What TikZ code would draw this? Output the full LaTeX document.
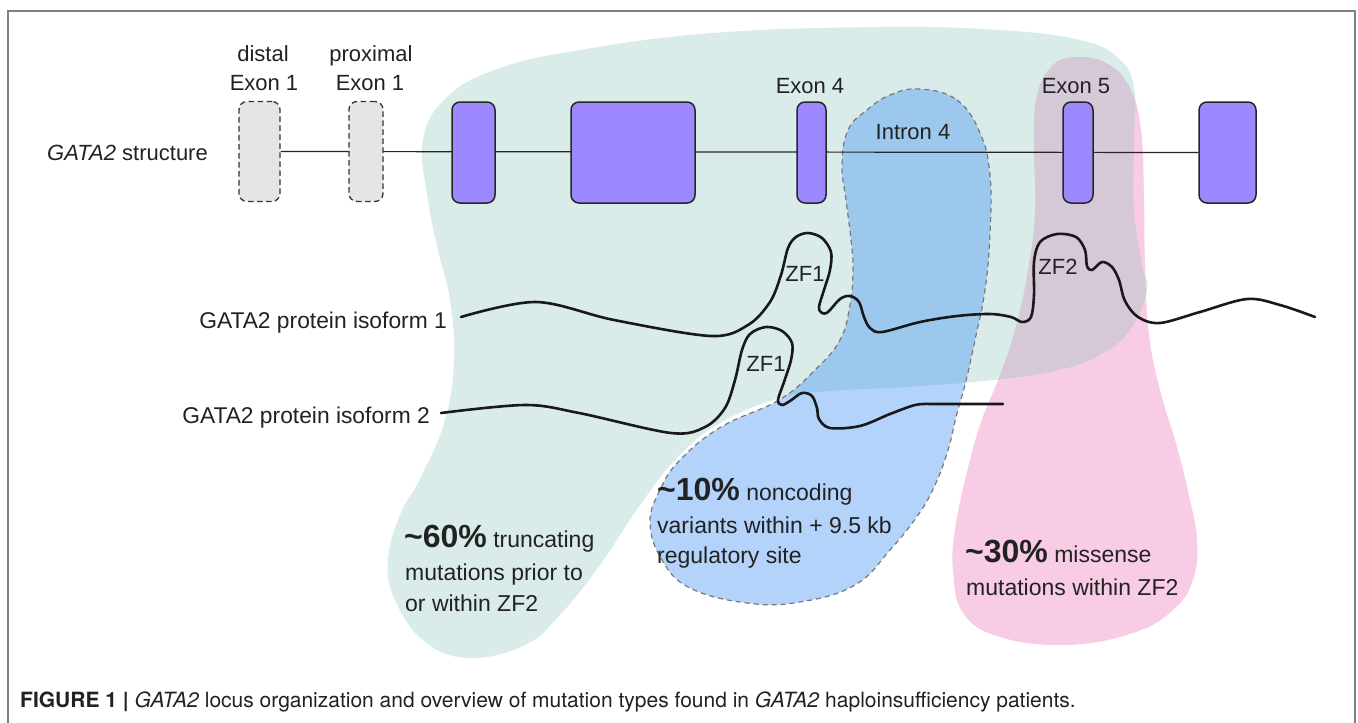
\documentclass[tikz,border=0pt]{standalone}
\usepackage{fontspec}
\setmainfont{Liberation Sans}
\newfontfamily\capfont{TeX Gyre Heros}
\usetikzlibrary{backgrounds}
\definecolor{txt}{RGB}{34,34,34}
\definecolor{exonfill}{RGB}{157,137,255}
\definecolor{greenb}{RGB}{135,195,188}
\definecolor{blueb}{RGB}{74,152,245}
\definecolor{pinkb}{RGB}{248,204,228}
\definecolor{framec}{RGB}{128,128,128}
\definecolor{dashc}{RGB}{120,120,120}
\begin{document}
\begin{tikzpicture}[x=1pt,y=-1pt,
  lbl/.style={font=\fontsize{22}{26}\selectfont, text=txt, inner sep=0pt},
  isolbl/.style={font=\fontsize{22.8}{26}\selectfont, text=txt, inner sep=0pt, anchor=base east},
  mut/.style={font=\fontsize{23}{27}\selectfont, text=txt, inner sep=0pt, anchor=base west},
  exonbox/.style={draw=black!85, fill=exonfill, rounded corners=8pt, line width=1.5pt, minimum height=101pt, inner sep=0pt},
  dexon/.style={draw=black!80, fill=black!10, dash pattern=on 5.5pt off 3.5pt, rounded corners=8pt, line width=1.3pt, minimum height=100pt, inner sep=0pt},
  prot/.style={line width=2.6pt, line cap=round, line join=round, black!90}
]
\useasboundingbox (0,0) rectangle (1358,723);

% exons
\node[dexon, minimum width=41pt] (e1d) at (259.5,151.5) {};
\node[dexon, minimum width=34pt] (e1p) at (366,151.5) {};
\node[exonbox, minimum width=43pt] (e2) at (473.5,152.5) {};
\node[exonbox, minimum width=124pt] (e3) at (633,152.5) {};
\node[exonbox, minimum width=29pt] (e4) at (811.5,152.5) {};
\node[exonbox, minimum width=30pt] (e5) at (1078,152.5) {};
\node[exonbox, minimum width=57pt] (e6) at (1227.5,152.5) {};

\begin{pgfonlayer}{background}
  \fill[white] (0,0) rectangle (1358,723);
  % pink blob
  \fill[pinkb] plot[smooth cycle, tension=0.7] coordinates {
    (1075,57) (1108,64) (1130,88) (1141,130) (1144,200) (1145,265) (1149,335)
    (1160,390) (1177,447) (1190,500) (1197,540) (1193,580) (1173,610) (1133,633)
    (1067,645) (1000,637) (963,613) (953,570) (955,530) (965,480) (980,425)
    (998,380) (1015,330) (1028,270) (1035,210) (1034,150) (1036,100) (1050,68)};
  % green blob
  \fill[greenb, fill opacity=0.3] plot[smooth cycle, tension=0.7] coordinates {
    (423,140) (447,97) (500,68) (580,50) (713,33) (880,27) (1000,30) (1080,40)
    (1118,58) (1134,87) (1134,140) (1134,210) (1142,265) (1147,290) (1130,330)
    (1100,355) (1059,370) (994,380) (906,387) (830,391) (780,398) (720,423)
    (677,458) (640,505) (600,565) (560,615) (525,645) (470,658) (425,642)
    (395,600) (388,560) (400,515) (421,477) (445,420) (454,360) (450,300)
    (438,250) (428,200)};
  % white rim
  \draw[white, line width=4pt] plot[smooth, tension=0.7] coordinates {
    (652,520) (660,490) (680,460) (721,427) (779,400)};
  % blue blob
  \path[fill=blueb, fill opacity=0.42, draw=dashc, line width=1.2pt, dash pattern=on 5pt off 4pt]
    plot[smooth cycle, tension=0.7] coordinates {
    (920,89) (957,100) (980,133) (990,175) (990,233) (985,290) (975,340)
    (965,385) (957,413) (948,450) (935,485) (918,515) (890,550) (855,585)
    (800,602) (747,603) (690,588) (662,560) (650,523) (660,490) (680,460)
    (721,427) (779,400) (815,370) (840,340) (850,305) (853,270) (851,240)
    (846,200) (842,165) (848,130) (867,110) (890,95)};
  % gene line
  \draw[black!85, line width=1.2pt] (e1d.east) -- (e6.west);
\end{pgfonlayer}

% frame
\draw[framec, line width=1.5pt] (8,730) -- (8,11) -- (1355,11) -- (1355,730);

% labels
\node[lbl, anchor=base east] (gs) at (208,160) {\textit{GATA2} structure};
\node[lbl, anchor=base] (d1) at (263,61) {distal};
\node[lbl, anchor=base] (d2) at (264,90) {Exon 1};
\node[lbl, anchor=base] (p1) at (371,61) {proximal};
\node[lbl, anchor=base] (p2) at (370,90) {Exon 1};
\node[lbl, anchor=base] (x4) at (810,93) {Exon 4};
\node[lbl, anchor=base] (x5) at (1076,93) {Exon 5};
\node[lbl, anchor=base] (i4) at (913,139) {Intron 4};
\node[isolbl] (iso1) at (447,328) {GATA2 protein isoform 1};
\node[isolbl] (iso2) at (430,423) {GATA2 protein isoform 2};
\node[lbl, anchor=base] (zfa) at (805,281) {ZF1};
\node[lbl, anchor=base] (zfb) at (766,371) {ZF1};
\node[lbl, anchor=base] (zfc) at (1058,274) {ZF2};

% protein isoform 1
\draw[prot] plot[smooth, tension=0.55] coordinates {
  (461,317) (536,302) (614,320) (711,336) (748,325) (770,302) (781,275) (788,248)
  (796,237) (808,233) (822,238) (831,252) (830,270) (824,290) (819,307) (822,313)
  (828,312) (840,299) (850,296) (859,302) (864,317) (870,328) (882,332) (920,322)
  (957,316) (990,314) (1011,317) (1022,322) (1031,317) (1034,295) (1034,262)
  (1040,242) (1057,234) (1076,237) (1085,250) (1087,266) (1092,270) (1102,262)
  (1112,267) (1119,280) (1125,301) (1138,317) (1160,323) (1200,312) (1247,299)
  (1280,305) (1315,317)};
% protein isoform 2
\draw[prot] plot[smooth, tension=0.55] coordinates {
  (441,413) (525,405) (579,413) (671,433) (705,427) (725,408) (735,380) (742,350)
  (750,334) (766,327) (782,331) (792,343) (791,360) (784,382) (778,400) (782,405)
  (790,401) (802,393) (812,396) (817,408) (819,419) (830,428) (860,426) (890,414)
  (915,405) (930,404)} -- (1003,404);

% mutation texts
\node[mut] (m60) at (404,547) {{\fontsize{32}{36}\selectfont\bfseries \textasciitilde60\%} truncating};
\node[mut] (m60b) at (405,580) {mutations prior to};
\node[mut] (m60c) at (405,611) {or within ZF2};
\node[mut] (m10) at (657,500) {{\fontsize{32}{36}\selectfont\bfseries \textasciitilde10\%} noncoding};
\node[mut] (m10b) at (657,533) {variants within + 9.5 kb};
\node[mut] (m10c) at (657,563) {regulatory site};
\node[mut] (m30) at (965,562) {{\fontsize{32}{36}\selectfont\bfseries \textasciitilde30\%} missense};
\node[mut] (m30b) at (966,595) {mutations within ZF2};

% caption
\node[inner sep=0pt, anchor=base west, text=txt, font=\capfont\fontsize{21}{24}\selectfont] (cap) at (20,707)
  {\textbf{FIGURE 1 |} \textit{GATA2} locus organization and overview of mutation types found in \textit{GATA2} haploinsufficiency patients.};
\end{tikzpicture}
\end{document}
